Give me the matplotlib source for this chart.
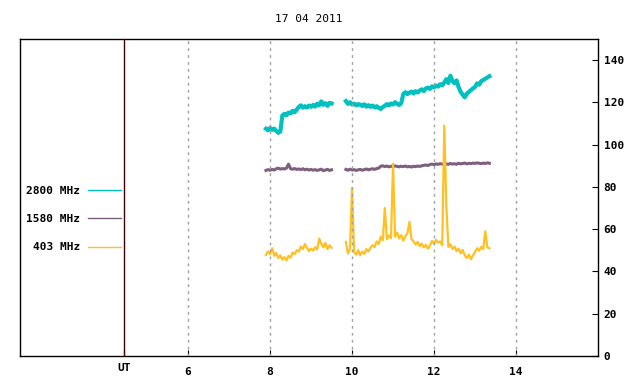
import numpy as np
import matplotlib
matplotlib.use('Agg')
import matplotlib.pyplot as plt

# sample times (UT hours), one sample every 0.05 h, gap between 9.5 and 9.85
t_start = 7.90
t_step = 0.05

flux_2800 = [
    107.5, 106.8, 107.9, 107.0, 107.6, 106.5, 105.6, 106.2, 113.8, 114.6,
    113.9, 115.2, 114.8, 116.0, 115.4, 116.6, 117.8, 118.6, 117.5, 118.2,
    117.6, 118.5, 117.9, 118.8, 118.0, 119.4, 118.7, 120.5, 118.9, 119.6,
    118.4, 119.8, 119.5, None, None, None, None, None, None, 120.6,
    119.3, 120.1, 119.0, 119.4, 118.6, 119.2, 118.9, 118.3, 119.1, 118.0,
    118.7, 117.9, 118.5, 117.6, 118.2, 117.4, 116.9, 117.8, 118.4, 119.2,
    118.6, 119.5, 119.0, 120.1, 119.3, 118.8, 119.6, 124.0, 124.8, 123.9,
    124.6, 125.1, 124.2, 125.3, 124.7, 125.6, 126.2, 125.4, 126.6, 127.0,
    126.4, 127.6, 127.1, 128.0, 127.5, 128.6, 128.1, 129.4, 131.0, 129.2,
    132.6, 130.1, 129.0, 130.4, 127.2, 125.0, 123.6, 122.4, 124.1, 125.0,
    125.8, 126.6, 127.3, 129.0, 128.4, 130.0, 130.6, 131.2, 131.8, 132.4,
]

flux_1580 = [
    87.8, 88.2, 87.9, 88.3, 88.0, 88.6, 88.9, 88.4, 88.7, 88.5,
    88.9, 90.8, 88.6, 88.4, 88.7, 88.3, 88.5, 88.2, 88.6, 88.1,
    88.4, 88.0, 88.3, 87.9, 88.2, 87.8, 88.1, 88.4, 87.7, 88.0,
    88.3, 87.8, 88.1, None, None, None, None, None, None, 88.3,
    87.9, 88.4, 88.0, 88.2, 87.8, 88.1, 88.3, 87.9, 88.2, 88.5,
    88.1, 88.4, 88.6, 88.3, 88.7, 88.9, 89.8, 90.0, 89.6, 89.9,
    89.5, 89.8, 89.6, 90.0, 89.7, 89.5, 89.8, 89.6, 89.9, 89.5,
    89.7, 89.4, 89.8, 89.6, 89.9, 89.7, 90.0, 90.2, 90.4, 90.1,
    90.6, 90.8, 90.5, 90.9, 90.7, 91.0, 90.8, 90.6, 90.9, 90.7,
    91.1, 90.8, 91.0, 90.7, 91.2, 90.9, 91.1, 91.3, 90.9, 91.2,
    91.0, 91.3, 91.1, 91.4, 91.2, 91.0, 91.3, 91.1, 91.4, 91.2,
]

flux_403 = [
    47.8, 49.5, 48.2, 51.0, 47.5, 48.8, 46.4, 47.6, 45.6, 46.8,
    45.2, 47.4, 46.5, 49.0, 48.2, 50.1, 49.4, 51.8, 50.6, 53.0,
    51.2, 49.6, 50.8, 49.9, 51.5, 50.4, 55.6, 53.0, 51.4, 53.5,
    50.6, 52.4, 51.2, None, None, None, None, None, None, 54.0,
    48.5, 50.6, 79.5, 49.2, 48.0, 50.1, 47.6, 49.4, 48.3, 50.6,
    49.5, 51.2, 52.4, 51.6, 54.2, 53.0, 56.4, 54.8, 70.0, 55.2,
    57.0, 55.8, 91.0, 56.5, 58.4, 55.6, 57.2, 54.6, 56.8, 58.0,
    63.5, 55.4, 54.2, 52.8, 54.0, 52.0, 53.2, 51.4, 52.6, 50.8,
    52.2, 54.4, 53.2, 55.0, 53.6, 54.2, 52.4, 109.0, 71.0, 51.6,
    52.8, 50.6, 51.8, 49.6, 50.8, 48.6, 50.2, 47.6, 46.4, 48.0,
    45.8, 47.6, 49.2, 51.0, 49.8, 51.6, 50.6, 59.0, 51.4, 51.0,
]

labels = ['2800 MHz', '1580 MHz', '403 MHz']
colors = ['#00c0c0', '#7f5f7f', '#ffc020']
widths = [3.0, 2.2, 1.6]
ut_line = 4.44
xticks = [6, 8, 10, 12, 14]
yticks = [0, 20, 40, 60, 80, 100, 120, 140]

n = len(flux_2800)
hours = t_start + t_step * np.arange(n)

plt.rcParams['font.family'] = 'DejaVu Sans Mono'
plt.rcParams['font.weight'] = 'bold'
plt.rcParams['font.size'] = 8

fig = plt.figure(figsize=(6.4, 3.84), dpi=100)
ax = fig.add_axes([20 / 640, 28 / 384, 578 / 640, 317 / 384])

for vals, lab, col, lw in zip([flux_2800, flux_1580, flux_403], labels, colors, widths):
    y = np.array([np.nan if v is None else v for v in vals])
    ax.plot(hours, y, color=col, lw=lw, label=lab, zorder=2)

# dotted vertical grid, drawn on top like the original
for xt in xticks:
    ax.axvline(xt, color='#a0a0a0', lw=1, ls=(0, (2, 3)), zorder=3)
ax.axvline(ut_line, color='#400000', lw=1, zorder=3)

ax.set_xlim(1.9, 16.0)
ax.set_ylim(0, 150)

ax.set_xticks([ut_line] + xticks)
ax.set_xticklabels(['UT'] + [str(x) for x in xticks])
ax.tick_params(axis='x', direction='in', length=4, pad=8, top=False)
ax.xaxis.get_major_ticks()[0].set_pad(5)
ax.yaxis.tick_right()
ax.set_yticks(yticks)
ax.tick_params(axis='y', direction='in', length=4, pad=4, left=False)

for s in ax.spines.values():
    s.set_linewidth(1)

ax.set_title('17 04 2011', fontsize=8, fontweight='normal', pad=12)

ax.legend(loc='center right', bbox_to_anchor=(0.185, 0.432), frameon=False,
          markerfirst=False, handlelength=3.0, handletextpad=0.7,
          labelspacing=1.65, borderpad=0, fontsize=8)
for line in ax.get_legend().get_lines():
    line.set_linewidth(1)

fig.savefig('out.png', dpi=100)
